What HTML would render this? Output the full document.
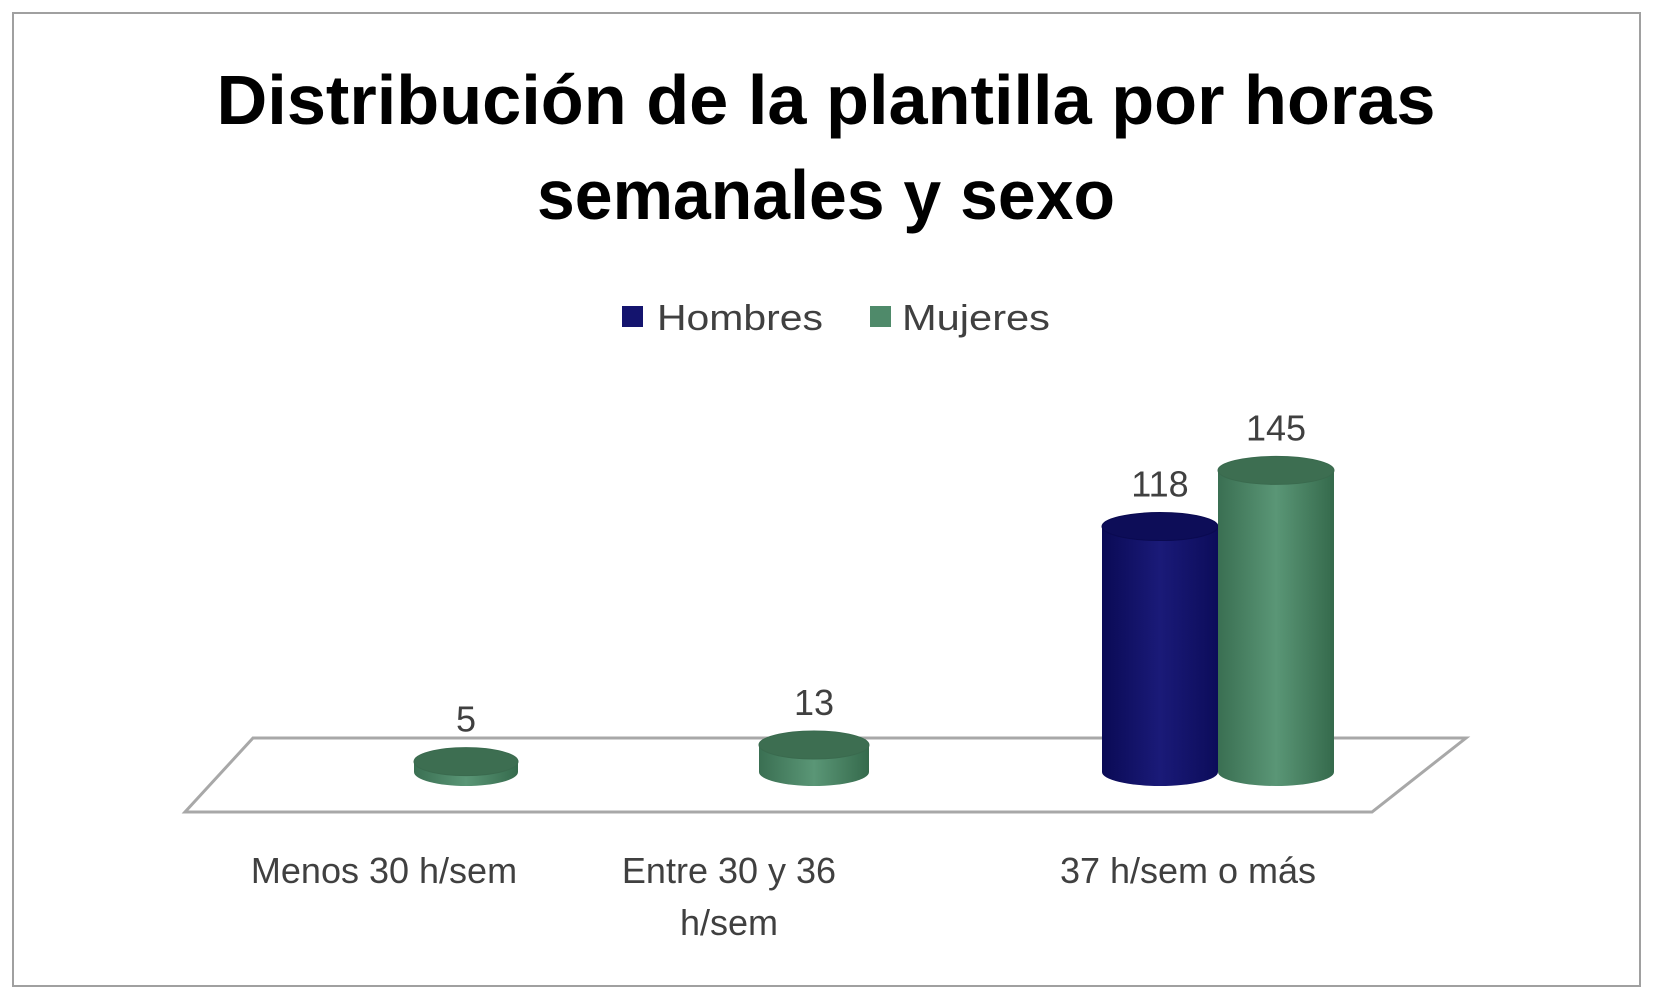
<!DOCTYPE html>
<html><head><meta charset="utf-8"><style>
html,body{margin:0;padding:0;background:#fff}
svg{display:block;font-family:"Liberation Sans",sans-serif}
</style></head><body>
<svg id="chart" width="1654" height="997" viewBox="0 0 1654 997">
<defs>
<linearGradient id="gBlue" x1="0" x2="1" y1="0" y2="0">
<stop offset="0" stop-color="#0a0a55"/><stop offset="0.5" stop-color="#1a1a78"/><stop offset="1" stop-color="#0c0c5a"/></linearGradient>
<linearGradient id="gGreen" x1="0" x2="1" y1="0" y2="0">
<stop offset="0" stop-color="#3a6f52"/><stop offset="0.5" stop-color="#5a9676"/><stop offset="1" stop-color="#356a4c"/></linearGradient>
</defs>
<rect x="13" y="13" width="1627" height="973" fill="#fff" stroke="#a0a0a0" stroke-width="2"/>
<g font-weight="bold" font-size="70" fill="#000" text-anchor="middle">
<text x="826" y="124" textLength="1219" lengthAdjust="spacingAndGlyphs">Distribución de la plantilla por horas</text>
<text x="826" y="219" textLength="578" lengthAdjust="spacingAndGlyphs">semanales y sexo</text>
</g>
<g font-size="36" fill="#404040">
<rect x="622" y="306" width="21" height="21" fill="#14146e"/>
<text x="657" y="330" textLength="166" lengthAdjust="spacingAndGlyphs">Hombres</text>
<rect x="870" y="306" width="21" height="21" fill="#4f8a6a"/>
<text x="902" y="330" textLength="148" lengthAdjust="spacingAndGlyphs">Mujeres</text>
</g>
<polygon points="253,738 1466,738 1372,812 185,812" fill="#fff" stroke="#a8a8a8" stroke-width="3"/>
<g id="bars"></g>
<g id="labels"></g>
</svg>
<script>
const categories = ["Menos 30 h/sem", "Entre 30 y 36|h/sem", "37 h/sem o más"];
const hombres = [0, 0, 118];
const mujeres = [5, 13, 145];
const seriesNames = ["hombres", "mujeres"];

const NS = "http://www.w3.org/2000/svg";
const baseY = 772, pxPerUnit = 2.08;
function yScale(v){ return baseY - v * pxPerUnit; }
function groupX(i){ return 414 + 345 * i + 57 * i * (i - 1); }
function barW(i){ return 104 + 6 * i; }
const bars = document.getElementById('bars');
const labels = document.getElementById('labels');
function mk(tag, attrs, parent){ const e = document.createElementNS(NS, tag); for (const k in attrs) e.setAttribute(k, attrs[k]); parent.appendChild(e); return e; }

const series = [hombres, mujeres];
const fills = ["url(#gBlue)", "url(#gGreen)"];
const tops = ["#0d0d58", "#3d6e51"];
const strokes = ["#0a0a50", "#3a6a4e"];
categories.forEach((c, i) => {
  const w = barW(i), rx = w / 2, ry = 14;
  series.forEach((s, si) => {
    const v = s[i];
    if (v <= 0) return;
    const cx = groupX(i) + (si === 0 ? -w / 2 : w / 2);
    const yt = yScale(v);
    const g = mk('g', {}, bars);
    
    
    mk('path', {d: `M${cx-rx},${yt} L${cx-rx},${baseY} A${rx},${ry} 0 0 0 ${cx+rx},${baseY} L${cx+rx},${yt} Z`, fill: fills[si]}, g);
    mk('ellipse', {cx: cx, cy: yt, rx: rx, ry: ry, fill: tops[si], stroke: strokes[si], 'stroke-width': 1}, g);
    const t = mk('text', {x: cx, y: yt - 30, 'text-anchor': 'middle', 'font-size': 36, fill: '#404040'}, labels);
    
    
    t.textContent = v;
  });
  const lines = c.split('|');
  lines.forEach((ln, li) => {
    const t = mk('text', {x: groupX(i) - 30 + 0, y: 883 + li * 52, 'text-anchor': 'middle', 'font-size': 36, fill: '#404040'}, labels);
    
    
    t.textContent = ln;
  });
});
</script>
</body></html>
